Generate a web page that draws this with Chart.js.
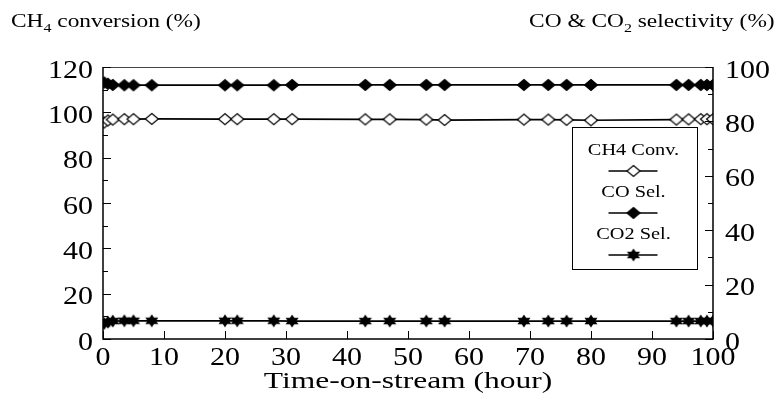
<!DOCTYPE html>
<html lang="en">
<head>
    <meta charset="UTF-8">
    <title>CH4 conversion and CO / CO2 selectivity</title>
    <script src="https://cdn.jsdelivr.net/npm/chart.js"></script>
    <style>
        body { margin: 0; background: #fff; }
        #wrap { position: relative; width: 782px; height: 414px; }
        .ttl { position: absolute; top: 10px; font: 19px 'Liberation Serif', 'Times New Roman', serif; color: #000; white-space: nowrap; }
        .ttl sub { font-size: 13px; }
        #ttl-left { left: 11px; transform: scaleX(1.23); transform-origin: left center; }
        #ttl-right { right: 7px; transform: scaleX(1.23); transform-origin: right center; }
    </style>
</head>
<body>
    <div id="wrap">
        <canvas id="chart" width="782" height="414"></canvas>
        <div class="ttl" id="ttl-left">CH<sub>4</sub> conversion (%)</div>
        <div class="ttl" id="ttl-right">CO &amp; CO<sub>2</sub> selectivity (%)</div>
    </div>

    <script>
        // time on stream (hour)
        const hours = [0.2, 0.8, 1.6, 3.5, 5, 8, 20, 22, 28, 31, 43, 47, 53, 56, 69, 73, 76, 80, 94, 96, 98, 99, 100];
        // CH4 conversion, left axis (%)
        const ch4Conv = [95.5, 96.4, 96.8, 97, 97, 97.1, 97, 97, 97, 97, 96.9, 96.9, 96.8, 96.6, 96.8, 96.8, 96.7, 96.5, 96.8, 96.9, 97, 97, 97];
        // CO selectivity, right axis (%)
        const coSel = [94.3, 93.8, 93.4, 93.3, 93.3, 93.3, 93.3, 93.3, 93.3, 93.4, 93.4, 93.4, 93.4, 93.4, 93.4, 93.4, 93.4, 93.4, 93.4, 93.4, 93.4, 93.4, 93.4];
        // CO2 selectivity, right axis (%)
        const co2Sel = [5.7, 6.2, 6.6, 6.7, 6.7, 6.7, 6.7, 6.7, 6.7, 6.6, 6.6, 6.6, 6.6, 6.6, 6.6, 6.6, 6.6, 6.6, 6.6, 6.6, 6.6, 6.6, 6.6];

        const leftTicks = [0, 20, 40, 60, 80, 100, 120];
        const rightTicks = [0, 20, 40, 60, 80, 100];
        const xTicks = [0, 10, 20, 30, 40, 50, 60, 70, 80, 90, 100];

        const SERIF = "'Liberation Serif', 'Times New Roman', serif";

        function marker(kind) {
            const c = document.createElement('canvas');
            c.width = 16; c.height = 14;
            const g = c.getContext('2d');
            const cx = 8, cy = 7;
            g.beginPath();
            if (kind === 'star') {
                for (const a0 of [-Math.PI / 2, Math.PI / 2]) {
                    for (let i = 0; i < 3; i++) {
                        const a = a0 + i * 2 * Math.PI / 3;
                        const px = cx + 7.5 * Math.cos(a), py = cy + 6.5 * Math.sin(a);
                        if (i === 0) g.moveTo(px, py); else g.lineTo(px, py);
                    }
                    g.closePath();
                }
                g.fillStyle = '#000';
                g.fill();
            } else {
                g.moveTo(cx, 1.5);
                g.lineTo(14.5, cy);
                g.lineTo(cx, 12.5);
                g.lineTo(1.5, cy);
                g.closePath();
                g.fillStyle = kind === 'open' ? '#fff' : '#000';
                g.fill();
                g.lineWidth = 1.2;
                g.strokeStyle = '#000';
                g.stroke();
            }
            return c;
        }

        const pts = { open: marker('open'), filled: marker('filled'), star: marker('star') };

        function xy(xs, ys) {
            return xs.map((x, i) => ({ x: x, y: ys[i] }));
        }

        // the source figure has horizontally stretched lettering
        function text(ctx, s, x, y, align, size, stretch) {
            ctx.save();
            ctx.translate(x, y);
            ctx.scale(stretch, 1);
            ctx.font = size + 'px ' + SERIF;
            ctx.fillStyle = '#000';
            ctx.textAlign = align;
            ctx.textBaseline = 'middle';
            ctx.fillText(s, 0, 0);
            ctx.restore();
        }

        // frame, inside ticks, labels, legend
        const decor = {
            id: 'decor',
            afterDraw(chart) {
                const ctx = chart.ctx;
                const a = chart.chartArea;
                const sx = chart.scales.x, sy = chart.scales.y, sy2 = chart.scales.y2;

                ctx.save();
                ctx.strokeStyle = '#000';
                ctx.lineWidth = 1.5;
                ctx.beginPath();
                ctx.moveTo(a.left, a.top); ctx.lineTo(a.left, a.bottom); ctx.lineTo(a.right, a.bottom); ctx.lineTo(a.right, a.top);
                ctx.stroke();
                ctx.lineWidth = 1;
                ctx.strokeStyle = '#444';
                ctx.beginPath();
                ctx.moveTo(a.left, a.top + 0.5); ctx.lineTo(a.right, a.top + 0.5);
                ctx.stroke();

                ctx.strokeStyle = '#000';
                ctx.lineWidth = 1;
                ctx.beginPath();
                for (let v = 0; v <= 120; v += 10) {
                    const y = Math.round(sy.getPixelForValue(v)) + 0.5;
                    ctx.moveTo(a.left, y); ctx.lineTo(a.left + (v % 20 ? 5 : 8), y);
                }
                for (let v = 0; v <= 100; v += 10) {
                    const y = Math.round(sy2.getPixelForValue(v)) + 0.5;
                    ctx.moveTo(a.right, y); ctx.lineTo(a.right - (v % 20 ? 5 : 8), y);
                }
                xTicks.forEach(v => {
                    const x = Math.round(sx.getPixelForValue(v)) + 0.5;
                    ctx.moveTo(x, a.bottom); ctx.lineTo(x, a.bottom - 8);
                });
                ctx.stroke();

                leftTicks.forEach(v => text(ctx, String(v), a.left - 10, sy.getPixelForValue(v) + 4, 'right', 25, 1.2));
                rightTicks.forEach(v => text(ctx, String(v), a.right + 12, sy2.getPixelForValue(v) + 4, 'left', 25, 1.2));
                xTicks.forEach(v => text(ctx, String(v), sx.getPixelForValue(v), a.bottom + 19, 'center', 25, 1.2));
                text(ctx, 'Time-on-stream (hour)', (a.left + a.right) / 2, 382, 'center', 23, 1.37);

                // legend box
                const L = { left: 572, top: 127, right: 697, bottom: 269 };
                ctx.strokeStyle = '#000';
                ctx.lineWidth = 1;
                ctx.strokeRect(L.left + 0.5, L.top + 0.5, L.right - L.left, L.bottom - L.top);
                const cx = (L.left + L.right) / 2 - 1;
                chart.data.datasets.forEach((ds, i) => {
                    const ty = 151 + i * 42;
                    const ly = ty + 20;
                    text(ctx, ds.label, cx, ty, 'center', 16, 1.27);
                    ctx.lineWidth = 1.6;
                    ctx.beginPath();
                    ctx.moveTo(cx - 25, ly); ctx.lineTo(cx + 24, ly);
                    ctx.stroke();
                    const img = ds.pointStyle;
                    ctx.drawImage(img, cx - img.width / 2, ly - img.height / 2);
                });
                ctx.restore();
            }
        };

        function series(label, data, axis, style) {
            return {
                label: label,
                data: data,
                yAxisID: axis,
                borderColor: '#000',
                borderWidth: 1.7,
                pointStyle: style,
                pointRadius: 7,
                pointHoverRadius: 7,
                tension: 0
            };
        }

        new Chart(document.getElementById('chart'), {
            type: 'line',
            data: {
                datasets: [
                    series('CH4 Conv.', xy(hours, ch4Conv), 'y', pts.open),
                    series('CO Sel.', xy(hours, coSel), 'y2', pts.filled),
                    series('CO2 Sel.', xy(hours, co2Sel), 'y2', pts.star)
                ]
            },
            options: {
                responsive: false,
                animation: false,
                devicePixelRatio: 1,
                layout: { padding: { top: 67, left: 0, right: 0, bottom: 0 } },
                plugins: { legend: { display: false }, tooltip: { enabled: false } },
                scales: {
                    x: {
                        type: 'linear', min: 0, max: 100,
                        ticks: { display: false, stepSize: 10 },
                        grid: { display: false }, border: { display: false },
                        afterFit: s => { s.height = 75; }
                    },
                    y: {
                        position: 'left', min: 0, max: 120,
                        ticks: { display: false, stepSize: 20 },
                        grid: { display: false }, border: { display: false },
                        afterFit: s => { s.width = 103; }
                    },
                    y2: {
                        position: 'right', min: 0, max: 100,
                        ticks: { display: false, stepSize: 20 },
                        grid: { display: false }, border: { display: false },
                        afterFit: s => { s.width = 69; }
                    }
                }
            },
            plugins: [decor]
        });
    </script>
</body>
</html>
